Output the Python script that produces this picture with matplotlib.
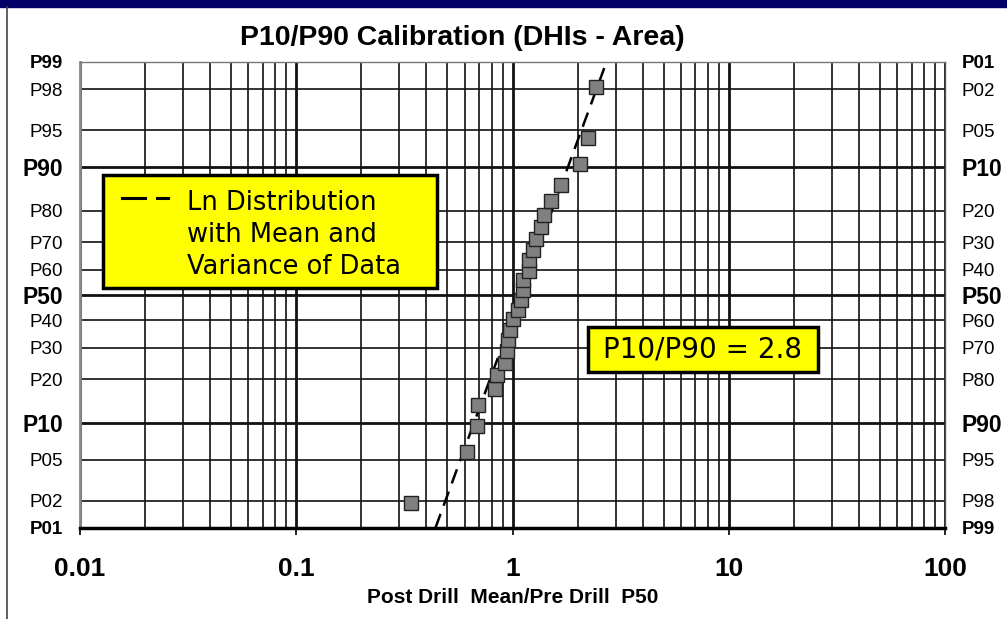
import matplotlib
matplotlib.use('Agg')
import matplotlib.pyplot as plt
import numpy as np
from matplotlib.patches import Rectangle
from matplotlib.lines import Line2D
from statistics import NormalDist

# Post drill mean / pre drill P50 for each prospect, with its cumulative
# probability (percent) on the probability axis
ratio = [0.341, 0.617, 0.686, 0.696, 0.832, 0.846, 0.928, 0.941, 0.958, 0.972,
         1.003, 1.063, 1.100, 1.116, 1.116, 1.186, 1.186, 1.241, 1.278, 1.358,
         1.396, 1.511, 1.681, 2.049, 2.241, 2.423]
cum_pct = [1.9, 5.8, 9.6, 13.5, 17.3, 21.2, 25.0, 28.8, 32.7, 36.5, 40.4, 44.2, 48.1,
           51.9, 55.8, 59.6, 63.5, 67.3, 71.2, 75.0, 78.8, 82.7, 86.5, 90.4, 94.2, 98.1]

# lognormal with mean and variance of the data (end points at P01 / P99)
fit_ratio = [0.44, 2.72]
fit_pct = [1, 99]

prob_ticks = [1, 2, 5, 10, 20, 30, 40, 50, 60, 70, 80, 90, 95, 98, 99]
left_labels = ['P01', 'P02', 'P05', 'P10', 'P20', 'P30', 'P40', 'P50',
               'P60', 'P70', 'P80', 'P90', 'P95', 'P98', 'P99']
right_labels = ['P99', 'P98', 'P95', 'P90', 'P80', 'P70', 'P60', 'P50',
                'P40', 'P30', 'P20', 'P10', 'P05', 'P02', 'P01']
big_ticks = [10, 50, 90]
edge_ticks = [1, 99]
x_ticks = [0.01, 0.1, 1, 10, 100]
x_labels = ['0.01', '0.1', '1', '10', '100']

nd = NormalDist()


def fwd(p):
    p = np.clip(np.asarray(p, dtype=float), 1e-4, 100 - 1e-4)
    return np.vectorize(lambda v: nd.inv_cdf(v / 100.0), otypes=[float])(p)


def inv(z):
    z = np.asarray(z, dtype=float)
    return np.vectorize(lambda v: nd.cdf(v) * 100.0, otypes=[float])(z)


LABEL_FONT = 'Liberation Sans'
BOX_FONT = 'DejaVu Sans'

fig = plt.figure(figsize=(10.07, 6.19), dpi=100)
ax = fig.add_axes([80 / 1007, (619 - 528) / 619, 865 / 1007, 466 / 619])

ax.set_xscale('log')
ax.set_xlim(0.01, 100)
ax.set_yscale('function', functions=(fwd, inv))
ax.set_ylim(1, 99)

# grid
ax.grid(which='major', axis='x', color='#111111', lw=2.0)
ax.grid(which='minor', axis='x', color='#111111', lw=1.2)
ax.set_yticks(prob_ticks)
ax.set_yticks([], minor=True)
ax.grid(which='major', axis='y', color='#111111', lw=1.2)
for tick, p in zip(ax.yaxis.get_major_ticks(), prob_ticks):
    if p in big_ticks:
        tick.gridline.set_linewidth(2.0)
    if p in edge_ticks:
        tick.gridline.set_visible(False)

# data + fit
ax.plot(fit_ratio, fit_pct, color='black', lw=1.8, ls=(0, (6, 3.5)), zorder=3)
ax.plot(ratio, cum_pct, 's', ms=10, mfc='#808080', mec='#222222', mew=1.0, zorder=4)

# x axis
ax.set_xticks(x_ticks)
ax.set_xticklabels(x_labels)
ax.tick_params(axis='x', which='major', length=5, width=1.2, pad=16)
ax.tick_params(axis='x', which='minor', length=0)
for t in ax.get_xticklabels():
    t.set_fontsize(19)
    t.set_fontweight('bold')
    t.set_family(LABEL_FONT)
ax.set_xlabel('Post Drill  Mean/Pre Drill  P50', fontsize=15, fontweight='bold',
              family=LABEL_FONT, labelpad=5)

# left probability labels
ax.set_yticklabels(left_labels)
ax.tick_params(axis='y', length=0, pad=12)


def style_labels(labels):
    for t, p in zip(labels, prob_ticks):
        t.set_family(LABEL_FONT)
        if p in big_ticks:
            t.set_fontsize(16.5)
            t.set_fontweight('bold')
        elif p in edge_ticks:
            t.set_fontsize(13.5)
            t.set_fontweight('bold')
        else:
            t.set_fontsize(13.5)


style_labels(ax.get_yticklabels())

# right probability labels (exceedance)
ax2 = ax.twinx()
ax2.set_yscale('function', functions=(fwd, inv))
ax2.set_ylim(1, 99)
ax2.set_yticks(prob_ticks)
ax2.set_yticks([], minor=True)
ax2.set_yticklabels(right_labels)
ax2.tick_params(axis='y', length=0, pad=12)
style_labels(ax2.get_yticklabels())
for s in ax2.spines.values():
    s.set_visible(False)

# spines
ax.spines['top'].set_color('#777777')
ax.spines['top'].set_linewidth(1.0)
ax.spines['right'].set_color('#555555')
ax.spines['right'].set_linewidth(1.0)
ax.spines['left'].set_color('#888888')
ax.spines['left'].set_linewidth(2.0)
ax.spines['bottom'].set_color('black')
ax.spines['bottom'].set_linewidth(2.5)

# legend box
ax.add_patch(Rectangle((0.0266, 0.515), 0.3861, 0.2425, transform=ax.transAxes,
                       fc='#ffff00', ec='black', lw=2.5, zorder=6))
ax.add_line(Line2D([0.0486, 0.0752], [0.708, 0.708], transform=ax.transAxes,
                   color='black', lw=2.2, zorder=7))
ax.add_line(Line2D([0.0890, 0.1017], [0.708, 0.708], transform=ax.transAxes,
                   color='black', lw=2.2, zorder=7))
ax.text(0.1237, 0.6288, 'Ln Distribution\nwith Mean and\nVariance of Data',
        transform=ax.transAxes, ha='left', va='center', fontsize=18.5,
        family=BOX_FONT, linespacing=1.3, zorder=7)

# P10/P90 box
ax.add_patch(Rectangle((0.5873, 0.3348), 0.2659, 0.0965, transform=ax.transAxes,
                       fc='#ffff00', ec='black', lw=2.5, zorder=6))
ax.text(0.7202, 0.383, 'P10/P90 = 2.8', transform=ax.transAxes, ha='center',
        va='center', fontsize=20, family=BOX_FONT, zorder=7)

# title and slide decoration
fig.text(462 / 1007, 1 - 38 / 619, 'P10/P90 Calibration (DHIs - Area)', ha='center',
         va='center', fontsize=20.5, fontweight='bold', family=LABEL_FONT)
fig.add_artist(Rectangle((0, 1 - 7 / 619), 1, 7 / 619, transform=fig.transFigure,
                         color='#000066'))
fig.add_artist(Line2D([7 / 1007, 7 / 1007], [0, 1 - 7 / 619], transform=fig.transFigure,
                      color='#444444', lw=1.2))

fig.savefig('out.png', dpi=100)
